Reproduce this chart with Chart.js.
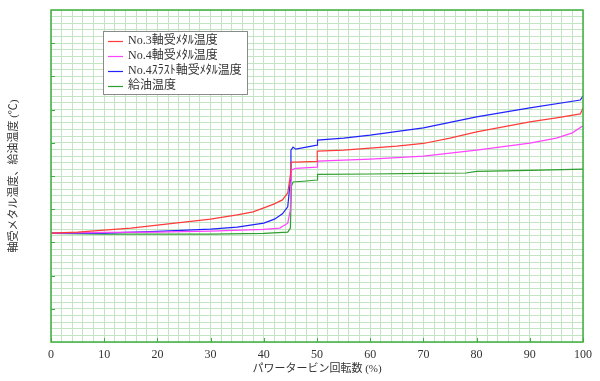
<!DOCTYPE html>
<html><head><meta charset="utf-8">
<script src="https://cdn.jsdelivr.net/npm/chart.js@4/dist/chart.umd.min.js"></script>
<style>html,body{margin:0;padding:0;background:#fff}</style>
</head><body>
<canvas id="c" width="600" height="381"></canvas>
<script>
// ---- data (y in relative units, axis unlabeled in the original) ----
const seriesLabels = ['No.3軸受ﾒﾀﾙ温度', 'No.4軸受ﾒﾀﾙ温度', 'No.4ｽﾗｽﾄ軸受ﾒﾀﾙ温度', '給油温度'];
const seriesColors = ['#ff3b3b', '#ff44ff', '#2222ff', '#2e9e2e'];

const no3X = [0, 5, 10, 15, 20, 25, 30, 35, 38, 40, 42, 43.5, 44.5, 45, 45.2, 46, 50, 50.05, 55, 60, 65, 70, 75, 80, 85, 90, 95, 99.5, 100];
const no3Y = [32.8, 33.1, 33.7, 34.3, 35.2, 36.1, 37.0, 38.3, 39.2, 40.4, 41.6, 42.8, 44.9, 50.3, 54.2, 54.2, 54.4, 57.5, 57.8, 58.4, 59.0, 59.8, 61.4, 63.3, 64.8, 66.3, 67.5, 68.7, 70.5];

const no4X = [0, 10, 20, 30, 40, 43, 44.5, 45, 45.2, 46, 50, 50.1, 60, 70, 80, 90, 95, 98, 100];
const no4Y = [32.8, 33.0, 33.1, 33.4, 33.9, 34.3, 35.8, 39.8, 51.8, 52.3, 52.7, 54.5, 55.1, 56.0, 57.8, 59.9, 61.4, 63.0, 65.1];

const thrustX = [0, 10, 20, 30, 35, 40, 42, 43.5, 44.5, 45, 45.1, 45.5, 46, 48, 50, 50.1, 55, 60, 70, 80, 90, 99.5, 100];
const thrustY = [32.8, 32.8, 33.3, 34.0, 34.6, 35.8, 37.0, 38.6, 40.7, 48.8, 57.8, 58.7, 58.1, 58.7, 59.3, 60.8, 61.4, 62.3, 64.5, 67.8, 70.5, 72.9, 74.1];

const oilX = [0, 10, 20, 30, 40, 44.5, 45, 45.2, 45.5, 48, 50, 50.1, 60, 70, 78, 80, 90, 100];
const oilY = [32.7, 32.5, 32.5, 32.5, 32.7, 33.1, 34.3, 47.0, 48.2, 48.5, 48.8, 50.5, 50.6, 50.8, 50.9, 51.4, 51.7, 52.1];

const xTickLabels = [0, 10, 20, 30, 40, 50, 60, 70, 80, 90, 100];
const xTitle = 'パワータービン回転数 (%)';
const yTitle = '軸受メタル温度、給油温度 (℃)';

const toPts = (xs, ys) => xs.map((x, i) => ({x, y: ys[i]}));
const seriesData = [toPts(no3X, no3Y), toPts(no4X, no4Y), toPts(thrustX, thrustY), toPts(oilX, oilY)];

const GRID = '#c2e4c2';
const AXIS = '#3fae3f';
const SERIF = "'Liberation Serif', 'Noto Sans CJK JP', serif";

const frame = {
  id: 'frame',
  afterDatasetsDraw(chart) {
    const {ctx, chartArea: a, scales: {x, y}} = chart;
    ctx.save();
    ctx.strokeStyle = AXIS;
    ctx.lineWidth = 1.5;
    ctx.strokeRect(a.left, a.top, a.right - a.left, a.bottom - a.top);
    ctx.lineWidth = 1;
    ctx.beginPath();
    xTickLabels.forEach(v => {
      const px = Math.round(x.getPixelForValue(v)) + 0.5;
      ctx.moveTo(px, a.bottom); ctx.lineTo(px, a.bottom - 4);
    });
    for (let v = 10; v < 100; v += 10) {
      const py = Math.round(y.getPixelForValue(v)) + 0.5;
      ctx.moveTo(a.left, py); ctx.lineTo(a.left + 4, py);
    }
    ctx.stroke();
    ctx.restore();
  }
};

const boxLegend = {
  id: 'boxLegend',
  afterDraw(chart) {
    const {ctx} = chart;
    const bx = 103, by = 31, bw = 144, bh = 63;
    ctx.save();
    ctx.fillStyle = '#fff';
    ctx.fillRect(bx, by, bw, bh);
    ctx.strokeStyle = '#8a8a8a';
    ctx.lineWidth = 1;
    ctx.strokeRect(bx + 0.5, by + 0.5, bw, bh);
    ctx.font = '12px ' + SERIF;
    ctx.textBaseline = 'middle';
    chart.data.datasets.forEach((ds, i) => {
      const yy = by + 10 + i * 15;
      ctx.strokeStyle = ds.borderColor;
      ctx.lineWidth = 1.2;
      ctx.beginPath(); ctx.moveTo(108, yy + 0.5); ctx.lineTo(123, yy + 0.5); ctx.stroke();
      ctx.fillStyle = '#333';
      ctx.fillText(ds.label, 128, yy);
    });
    ctx.restore();
  }
};

new Chart(document.getElementById('c'), {
  type: 'line',
  data: {
    datasets: seriesData.map((d, i) => ({
      label: seriesLabels[i],
      data: d,
      borderColor: seriesColors[i],
      backgroundColor: seriesColors[i],
      borderWidth: 1.2,
      pointRadius: 0,
      tension: 0,
      fill: false
    }))
  },
  options: {
    responsive: false,
    animation: false,
    devicePixelRatio: 1,
    layout: {padding: {top: 10, right: 17, left: 0, bottom: 0}},
    plugins: {legend: {display: false}, tooltip: {enabled: false}},
    scales: {
      x: {
        type: 'linear', min: 0, max: 100,
        afterFit(s) { s.height = 39; },
        border: {display: false},
        grid: {color: GRID, lineWidth: 1, drawTicks: false},
        ticks: {
          stepSize: 2, autoSkip: false, maxRotation: 0, padding: 6,
          color: '#333', font: {family: SERIF, size: 12},
          callback: v => xTickLabels.includes(v) ? String(v) : ''
        },
        title: {display: true, text: xTitle, color: '#333', font: {family: SERIF, size: 11}, padding: {top: 0, bottom: 5}}
      },
      y: {
        min: 0, max: 100,
        afterFit(s) { s.width = 51; },
        border: {display: false},
        grid: {color: GRID, lineWidth: 1, drawTicks: false},
        ticks: {display: false, stepSize: 2},
        title: {display: true, text: yTitle, color: '#333', font: {family: SERIF, size: 11}, padding: {top: 8, bottom: 0}}
      }
    }
  },
  plugins: [frame, boxLegend]
});
</script>
</body></html>
